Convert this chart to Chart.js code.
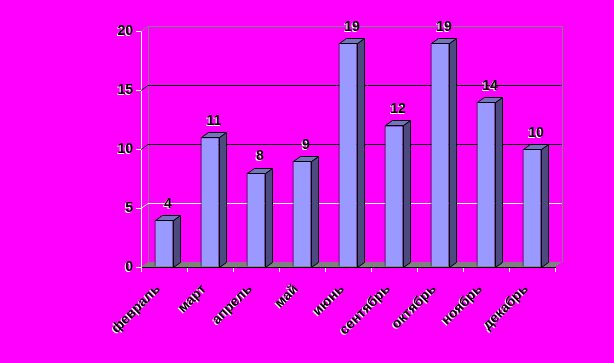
<!DOCTYPE html>
<html><head><meta charset="utf-8">
<script src="https://cdn.jsdelivr.net/npm/chart.js@4"></script>
<style>html,body{margin:0;padding:0;background:#FF00FF;}#wrap{width:614px;height:363px;}</style>
</head><body><div id="wrap"><canvas id="c" width="614" height="363"></canvas></div>
<script>
const categories = ['февраль','март','апрель','май','июнь','сентябрь','октябрь','ноябрь','декабрь'];
const values = [4, 11, 8, 9, 19, 12, 19, 14, 10];
const yTicks = [0, 5, 10, 15, 20];

const DEPTH = {dx: 7, dy: -5};
const gridColor = {0: '#808080', 5: '#FFFFFF', 10: '#000000', 15: '#000000', 20: '#808080'};
const FONT = 'Liberation Sans, Arial, sans-serif';

const threeD = {
  id: 'threeD',
  beforeDatasetsDraw(chart) {
    const {ctx, chartArea: a, scales: {x, y}} = chart;
    const {dx, dy} = DEPTH;
    const y0 = y.getPixelForValue(0);
    const yTop = y.getPixelForValue(yTicks[yTicks.length - 1]);
    ctx.save();
    ctx.fillStyle = '#808080';
    ctx.beginPath();
    ctx.moveTo(a.left, y0); ctx.lineTo(a.right, y0);
    ctx.lineTo(a.right + dx, y0 + dy); ctx.lineTo(a.left + dx, y0 + dy);
    ctx.closePath(); ctx.fill();
    ctx.lineWidth = 1;
    ctx.strokeStyle = '#808080';
    ctx.beginPath();
    ctx.moveTo(Math.round(a.left + dx) + 0.5, y0 + dy);
    ctx.lineTo(Math.round(a.left + dx) + 0.5, yTop + dy);
    ctx.moveTo(Math.round(a.right + dx) + 0.5, y0 + dy);
    ctx.lineTo(Math.round(a.right + dx) + 0.5, yTop + dy);
    ctx.stroke();
    yTicks.forEach(v => {
      if (v === 0) return;
      const py = Math.round(y.getPixelForValue(v)) + 0.5;
      ctx.strokeStyle = gridColor[v];
      ctx.lineWidth = 1;
      ctx.beginPath();
      ctx.moveTo(a.left, py);
      ctx.lineTo(a.left + dx, py + dy);
      ctx.lineTo(a.right + dx, py + dy);
      ctx.stroke();
    });
    ctx.restore();
  },
  afterDatasetsDraw(chart) {
    const {ctx} = chart;
    const {dx, dy} = DEPTH;
    const meta = chart.getDatasetMeta(0);
    ctx.save();
    ctx.lineWidth = 1;
    ctx.strokeStyle = '#000000';
    meta.data.forEach(bar => {
      const l = Math.round(bar.x - bar.width / 2) + 0.5;
      const r = Math.round(bar.x + bar.width / 2) + 0.5;
      const t = Math.round(bar.y) + 0.5;
      const b = Math.round(bar.base) + 0.5;
      ctx.fillStyle = '#4B4B80';
      ctx.beginPath();
      ctx.moveTo(r, t); ctx.lineTo(r + dx, t + dy); ctx.lineTo(r + dx, b + dy); ctx.lineTo(r, b);
      ctx.closePath(); ctx.fill(); ctx.stroke();
      ctx.fillStyle = '#7373BF';
      ctx.beginPath();
      ctx.moveTo(l, t); ctx.lineTo(l + dx, t + dy); ctx.lineTo(r + dx, t + dy); ctx.lineTo(r, t);
      ctx.closePath(); ctx.fill(); ctx.stroke();
    });
    ctx.font = 'bold 14px ' + FONT;
    ctx.textAlign = 'center';
    ctx.textBaseline = 'middle';
    ctx.shadowColor = '#FFFFFF';
    ctx.shadowBlur = 0;
    ctx.shadowOffsetX = -1;
    ctx.shadowOffsetY = 1;
    ctx.fillStyle = '#000000';
    meta.data.forEach((bar, i) => {
      ctx.fillText(String(values[i]), bar.x + 4, bar.y - 16);
    });
    ctx.restore();
    ctx.shadowColor = '#FFFFFF';
    ctx.shadowBlur = 0;
    ctx.shadowOffsetX = -1;
    ctx.shadowOffsetY = 1;
  },
  afterDraw(chart) {
    const ctx = chart.ctx;
    ctx.shadowColor = 'rgba(0,0,0,0)';
    ctx.shadowOffsetX = 0;
    ctx.shadowOffsetY = 0;
  }
};

new Chart(document.getElementById('c'), {
  type: 'bar',
  data: {
    labels: categories,
    datasets: [{
      data: values,
      backgroundColor: '#9999FF',
      borderColor: '#000000',
      borderWidth: 1,
      categoryPercentage: 1,
      barPercentage: 0.41
    }]
  },
  options: {
    responsive: false,
    animation: false,
    events: [],
    layout: {padding: {top: 31, right: 59, left: 0, bottom: 0}},
    plugins: {legend: {display: false}, tooltip: {enabled: false}},
    scales: {
      x: {
        afterFit(s) { s.height = 96; },
        grid: {drawOnChartArea: false, drawTicks: true, tickLength: 5, tickColor: '#FFFFFF', offset: true},
        border: {color: '#000000', width: 1},
        ticks: {
          z: 1, color: '#000000', minRotation: 45, maxRotation: 45, autoSkip: false, padding: 9, labelOffset: -6,
          font: {family: FONT, size: 14, weight: 'bold'}
        }
      },
      y: {
        min: 0, max: 20,
        afterFit(s) { s.width = 141; },
        afterBuildTicks(s) { s.ticks = yTicks.map(v => ({value: v})); },
        grid: {drawOnChartArea: false, drawTicks: true, tickLength: 5, tickColor: '#FFFFFF'},
        border: {color: '#FFFFFF', width: 1},
        ticks: {
          z: 1, color: '#000000', padding: 3,
          font: {family: FONT, size: 14, weight: 'bold'}
        }
      }
    }
  },
  plugins: [threeD]
});
</script>
</body></html>
